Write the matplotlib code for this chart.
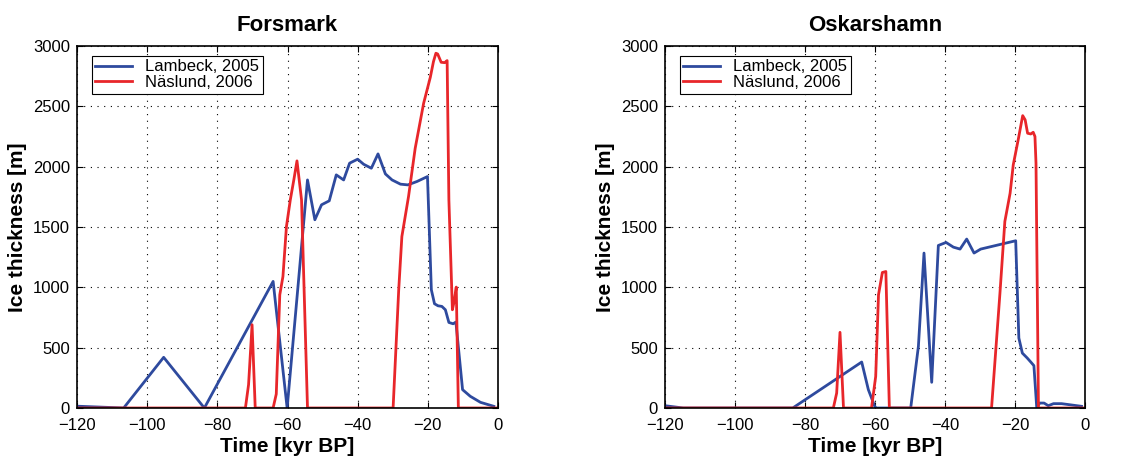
import matplotlib
matplotlib.use('Agg')
import matplotlib.pyplot as plt

plt.rcParams['font.family'] = ['Liberation Sans', 'DejaVu Sans']

# Forsmark - Lambeck, 2005
fm_lam_t = [-120, -106.7, -95.3, -83.7, -64.1, -60.1, -54.3, -52.2, -50.3, -48.1, -46.1,
            -44.0, -42.3, -40.0, -38.3, -36.1, -34.2, -32.1, -30.2, -27.8, -25.7, -23.1,
            -20.1, -19.0, -18.1, -17.1, -16.0, -15.0, -14.0, -12.8, -12.0, -10.1, -7.9,
            -5.0, -1.2]
fm_lam_h = [15, 0, 420, 0, 1049, 0, 1890, 1560, 1684, 1717, 1932,
            1890, 2029, 2062, 2020, 1987, 2106, 1940, 1890, 1855, 1849, 1877,
            1918, 980, 864, 847, 842, 814, 709, 698, 712, 152, 97,
            47, 14]

# Forsmark - Näslund, 2006
fm_nas_t = [-120, -72.0, -71.1, -70.1, -69.2, -64.1, -63.2, -62.2, -61.3, -60.3, -59.2,
            -58.2, -57.3, -56.0, -54.3, -29.9, -28.3, -27.4, -25.5, -23.6, -21.2, -19.3,
            -18.4, -17.7, -17.2, -16.2, -15.2, -14.5, -14.0, -13.0, -12.5, -11.9, -11.3, 0]
fm_nas_h = [0, 0, 193, 690, 0, 0, 116, 938, 1090, 1504, 1725,
            1890, 2048, 1725, 0, 0, 980, 1421, 1753, 2153, 2525, 2740,
            2870, 2940, 2934, 2865, 2862, 2879, 1725, 814, 883, 1002, 0, 0]

# Oskarshamn - Lambeck, 2005
os_lam_t = [-120, -114.8, -83.5, -63.8, -61.9, -60.0, -59.5, -49.8, -47.6, -46.0, -43.8,
            -41.9, -39.7, -37.6, -35.7, -33.8, -31.7, -29.8, -19.8, -18.9, -17.9, -16.5,
            -15.4, -14.6, -13.8, -12.9, -11.7, -10.5, -9.0, -6.7, -1.0]
os_lam_h = [19, 0, 0, 381, 152, 8, 0, 0, 511, 1284, 213,
            1347, 1372, 1333, 1317, 1400, 1284, 1317, 1386, 580, 455, 414,
            378, 351, 8, 41, 41, 19, 36, 36, 14]

# Oskarshamn - Näslund, 2006
os_nas_t = [-120, -71.9, -70.95, -70.0, -69.0, -61.0, -59.8, -59.0, -57.9, -56.9, -55.9,
            -26.7, -24.3, -22.9, -21.4, -20.5, -19.0, -17.8, -17.1, -16.4, -15.5, -14.8,
            -14.3, -14.0, -13.3, 0]
os_nas_h = [0, 0, 124, 627, 0, 0, 262, 938, 1123, 1131, 0,
            0, 952, 1546, 1780, 2015, 2236, 2423, 2388, 2277, 2271, 2285,
            2250, 2029, 0, 0]

blue = '#2e4a9e'
red = '#e8262a'

fig = plt.figure(figsize=(11.4, 4.59), dpi=100)
ax1 = fig.add_axes([77 / 1140, 1 - 408 / 459, 421 / 1140, 362 / 459])
ax2 = fig.add_axes([665 / 1140, 1 - 408 / 459, 420 / 1140, 362 / 459])

panels = [
    (ax1, 'Forsmark', fm_lam_t, fm_lam_h, fm_nas_t, fm_nas_h),
    (ax2, 'Oskarshamn', os_lam_t, os_lam_h, os_nas_t, os_nas_h),
]

for ax, title, lt, lh, nt, nh in panels:
    ax.plot(lt, lh, color=blue, lw=2, label='Lambeck, 2005')
    ax.plot(nt, nh, color=red, lw=2, label='Näslund, 2006')
    ax.set_xlim(-120, 0)
    ax.set_ylim(0, 3000)
    ax.set_xticks(range(-120, 1, 20))
    ax.set_yticks(range(0, 3001, 500))
    ax.set_xticklabels(['\u2212120', '\u2212100', '\u221280', '\u221260', '\u221240', '\u221220', '0'])
    ax.grid(True, color='black', linestyle=(0, (1, 5)), linewidth=0.8)
    ax.tick_params(direction='in', top=True, right=True, labelsize=12, length=4)
    ax.tick_params(axis='x', pad=7)
    ax.tick_params(axis='y', pad=5)
    for s in ax.spines.values():
        s.set_linewidth(1.2)
    ax.set_title(title, fontsize=16, fontweight='bold', pad=11)
    ax.set_xlabel('Time [kyr BP]', fontsize=15, fontweight='bold', labelpad=3)
    ax.set_ylabel('Ice thickness [m]', fontsize=15, fontweight='bold', labelpad=4)
    leg = ax.legend(loc='upper left', fontsize=12, fancybox=False, framealpha=1,
                    edgecolor='black', borderpad=0.2, labelspacing=0.05,
                    handlelength=2.2, borderaxespad=0, bbox_to_anchor=(0.036, 0.972))
    leg.get_frame().set_linewidth(0.8)

fig.savefig('out.png', dpi=100)
